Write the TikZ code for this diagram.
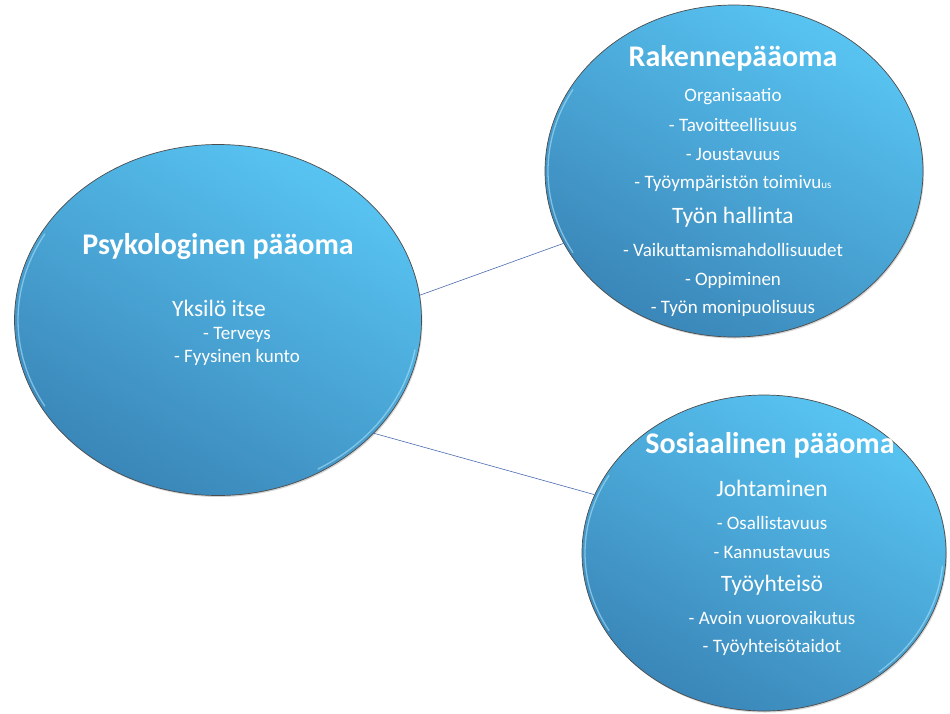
\documentclass[tikz,border=0pt]{standalone}
\usepackage{fontspec}
\setmainfont{Carlito}
\usetikzlibrary{shapes.geometric,shadows}
\definecolor{poolLight}{HTML}{58C4F2}
\definecolor{poolDark}{HTML}{3A86B8}
\definecolor{linkBlue}{HTML}{4A6AB0}

\begin{document}
\begin{tikzpicture}[x=1pt,y=-1pt,
	pool node/.style={ellipse,draw=black!70,line width=0.7pt,inner sep=0pt,
		top color=poolLight,bottom color=poolDark,shading angle=-30,
		drop shadow={shadow xshift=1pt,shadow yshift=-1.5pt,opacity=0.35}},
	rim/.style={white!50!poolLight,line width=1.3pt,opacity=0.6,line cap=round},
	title/.style={text=white,font=\bfseries\fontsize{30}{35}\selectfont},
	head/.style={text=white,font=\fontsize{23.5}{28}\selectfont},
	item/.style={text=white,font=\fontsize{19}{23}\selectfont}]
	
	\useasboundingbox (0,0) rectangle (950,713);
	
	% the three capitals
	\node[pool node, minimum width=407pt, minimum height=351pt] (psy) at (218,320) {};
	\node[pool node, minimum width=378pt, minimum height=332pt] (rak) at (734,171) {};
	\node[pool node, minimum width=364pt, minimum height=316pt] (sos) at (764,553) {};
	
	% rim light
	\draw[rim] ([shift={(150:200pt and 172pt)}]psy.center) arc[start angle=150, end angle=210, x radius=200pt, y radius=172pt];
	\draw[rim] ([shift={(-60:200pt and 172pt)}]psy.center) arc[start angle=-60, end angle=-10, x radius=200pt, y radius=172pt];
	\draw[rim] ([shift={(150:186pt and 163pt)}]rak.center) arc[start angle=150, end angle=210, x radius=186pt, y radius=163pt];
	\draw[rim] ([shift={(150:179pt and 155pt)}]sos.center) arc[start angle=150, end angle=210, x radius=179pt, y radius=155pt];
	\draw[rim] ([shift={(-50:179pt and 155pt)}]sos.center) arc[start angle=-50, end angle=-5, x radius=179pt, y radius=155pt];
	
	\path[linkBlue, line width=0.6pt]
	(psy.7) edge (rak.203)
	(psy.-36) edge (sos.161);
	
	% left
	\node[title] (psyT) at (218,247) {Psykologinen pääoma};
	\node[head] (psyA) at (219,308) {Yksilö itse};
	\node[item] (psyB) at (237,335) {- Terveys};
	\node[item] (psyC) at (237,357) {- Fyysinen kunto};
	
	% top right
	\node[title] (rakT) at (733,58) {Rakennepääoma};
	\node[item] (rakA) at (733,97) {Organisaatio};
	\node[item] (rakB) at (733,125) {- Tavoitteellisuus};
	\node[item] (rakC) at (733,154) {- Joustavuus};
	\node[item] (rakD) at (733,183) {- Työympäristön toimivu{\fontsize{11}{12}\selectfont us}};
	\node[head] (rakE) at (733,217) {Työn hallinta};
	\node[item] (rakF) at (733,250) {- Vaikuttamismahdollisuudet};
	\node[item] (rakG) at (733,280) {- Oppiminen};
	\node[item] (rakH) at (733,308) {- Työn monipuolisuus};
	
	% bottom right
	\node[title] (sosT) at (770,445) {Sosiaalinen pääoma};
	\node[head] (sosA) at (772,488) {Johtaminen};
	\node[item] (sosB) at (772,523) {- Osallistavuus};
	\node[item] (sosC) at (772,552) {- Kannustavuus};
	\node[head] (sosD) at (772,585) {Työyhteisö};
	\node[item] (sosE) at (772,618) {- Avoin vuorovaikutus};
	\node[item] (sosF) at (772,647) {- Työyhteisötaidot};
	
\end{tikzpicture}
\end{document}
